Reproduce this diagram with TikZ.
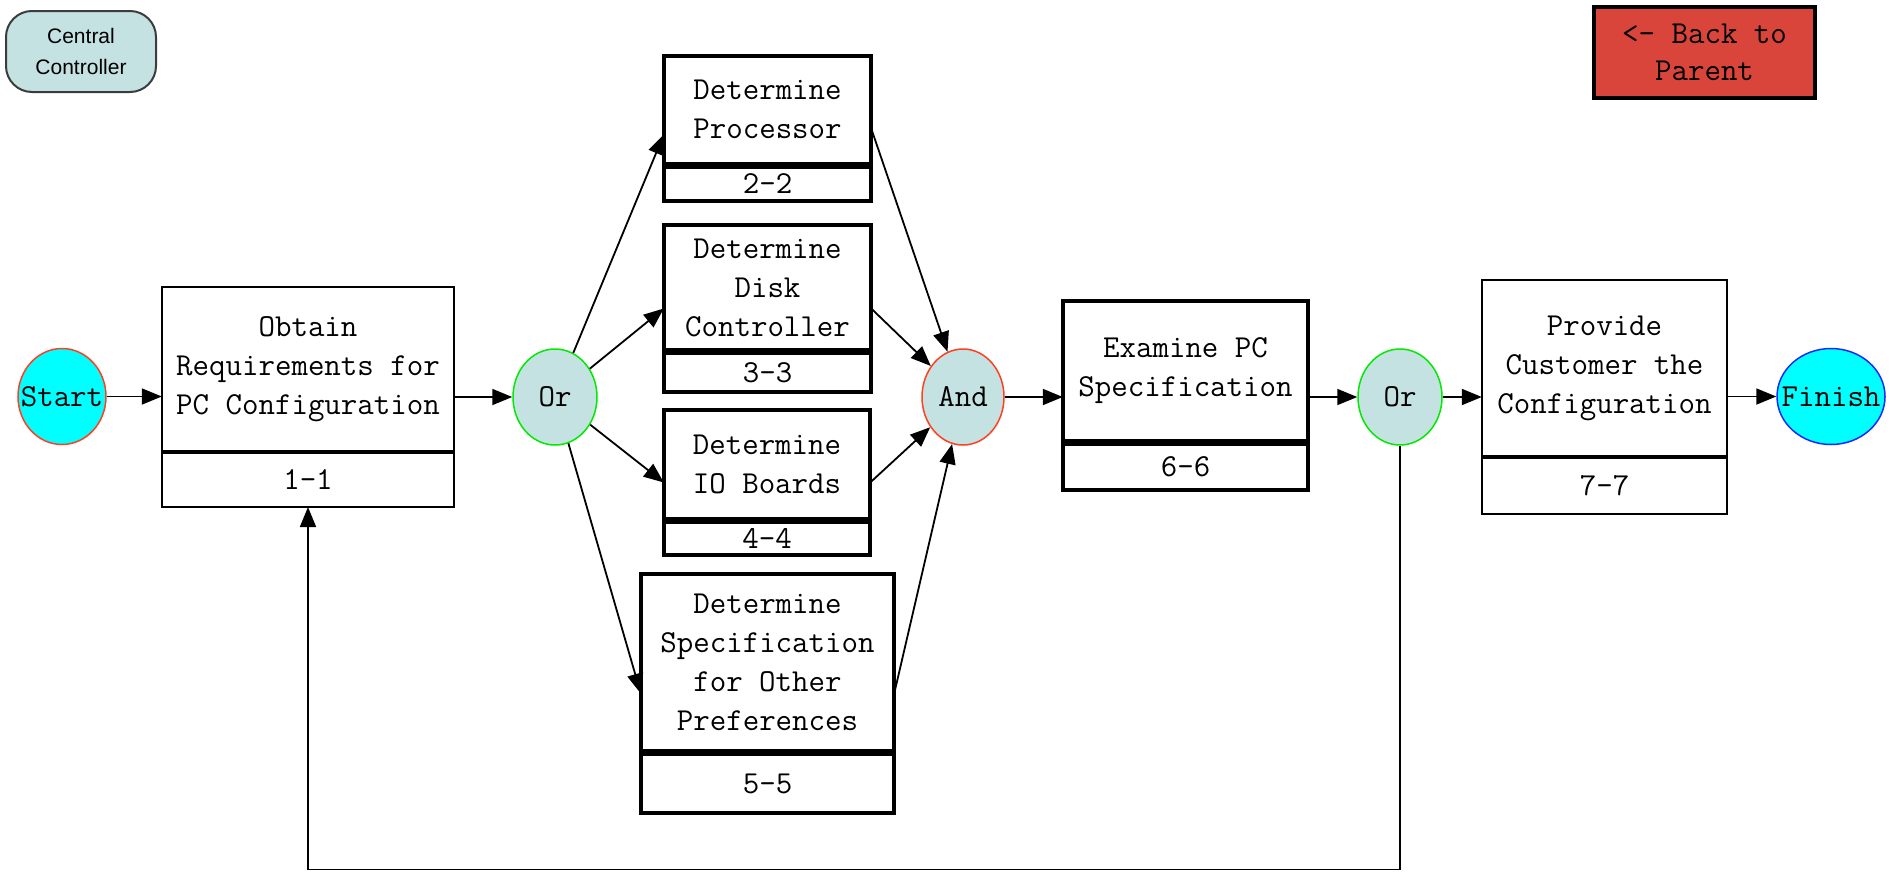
\documentclass[tikz,border=0pt]{standalone}
\usepackage{fontspec}
\newfontfamily\ccfont{Liberation Sans}
\usetikzlibrary{arrows.meta,shapes.geometric,fit}

\definecolor{gatefill}{RGB}{196,226,226}
\definecolor{termfill}{RGB}{0,255,255}
\definecolor{orline}{RGB}{0,235,0}
\definecolor{andline}{RGB}{255,64,32}
\definecolor{finline}{RGB}{30,40,255}
\definecolor{backfill}{RGB}{218,69,59}
\definecolor{ccline}{RGB}{60,60,60}

% typewriter face used for all labels in the flow
\newcommand\tkfont{\fontsize{32}{39}\selectfont\ttfamily}
% label that may run past the outline of its ellipse
\newcommand\overlabel[1]{\makebox[0pt]{#1}}

\begin{document}
\begin{tikzpicture}[x=1pt,y=-1pt,
  taskthick/.style={draw, line width=4pt, fill=white, inner sep=0pt, outer sep=0pt,
                    align=center, font=\tkfont},
  taskthin/.style={taskthick, line width=2pt},
  gate/.style={ellipse, draw, fill=gatefill, line width=1.5pt, inner sep=0pt,
               minimum height=96pt, font=\tkfont},
  terminal/.style={gate, fill=termfill},
  flow/.style={line width=1.8pt, -{Triangle[length=20pt,width=16pt]}}
]
\useasboundingbox (0,0) rectangle (1897,873);

% header buttons
\node[draw=ccline, line width=2pt, fill=gatefill, rounded corners=26pt,
      minimum width=150pt, minimum height=81pt, inner sep=0pt, align=center,
      font=\fontsize{21}{31}\selectfont\ccfont] (cc) at (81,51.5) {Central\\Controller};
\node[draw, line width=4pt, fill=backfill, minimum width=221pt, minimum height=91pt,
      inner sep=0pt, align=center, font=\fontsize{32}{37}\selectfont\ttfamily]
      (back) at (1704.5,52.5) {<- Back to\\Parent};

% terminals and gates
\node[terminal, draw=andline, minimum width=88pt] (start) at (62,396.5) {\overlabel{Start}};
\node[gate, draw=orline, minimum width=84pt] (or1) at (555,397) {Or};
\node[gate, draw=andline, minimum width=82pt] (and) at (963,397) {And};
\node[gate, draw=orline, minimum width=84pt] (or2) at (1400,397) {Or};
\node[terminal, draw=finline, minimum width=108pt] (finish) at (1831,396.5) {\overlabel{Finish}};

% activity boxes: description part above, number part below
\node[taskthin, minimum width=292pt, minimum height=164pt] (obtainT) at (308,369)
      {Obtain\\Requirements for\\PC Configuration};
\node[taskthin, minimum width=292pt, minimum height=54pt] (obtainN) at (308,480) {1-1};
\node[fit=(obtainT)(obtainN), inner sep=0pt] (obtain) {};

\node[taskthick, minimum width=207pt, minimum height=107.5pt] (procT) at (767.5,109.75)
      {Determine\\Processor};
\node[taskthick, minimum width=207pt, minimum height=34.5pt] (procN) at (767.5,183.75) {2-2};
\node[fit=(procT)(procN), inner sep=0pt] (proc) {};

\node[taskthick, minimum width=207pt, minimum height=125pt] (diskT) at (767.5,287.5)
      {Determine\\Disk\\Controller};
\node[taskthick, minimum width=207pt, minimum height=39pt] (diskN) at (767.5,372.5) {3-3};
\node[fit=(diskT)(diskN), inner sep=0pt] (disk) {};

\node[taskthick, minimum width=206pt, minimum height=108.5pt] (ioT) at (767,464.25)
      {Determine\\IO Boards};
\node[taskthick, minimum width=206pt, minimum height=33.5pt] (ioN) at (767,538.25) {4-4};
\node[fit=(ioT)(ioN), inner sep=0pt] (io) {};

\node[taskthick, minimum width=253pt, minimum height=177pt] (specT) at (767.5,662.5)
      {Determine\\Specification\\for Other\\Preferences};
\node[taskthick, minimum width=253pt, minimum height=59pt] (specN) at (767.5,783.5) {5-5};
\node[fit=(specT)(specN), inner sep=0pt] (spec) {};

\node[taskthick, minimum width=245pt, minimum height=140pt] (examT) at (1185.5,371)
      {Examine PC\\Specification};
\node[taskthick, minimum width=245pt, minimum height=46pt] (examN) at (1185.5,467) {6-6};
\node[fit=(examT)(examN), inner sep=0pt] (exam) {};

\node[taskthin, minimum width=245pt, minimum height=176pt] (provT) at (1604.5,368)
      {Provide\\Customer the\\Configuration};
\node[taskthin, minimum width=245pt, minimum height=56pt] (provN) at (1604.5,486) {7-7};
\node[fit=(provT)(provN), inner sep=0pt] (prov) {};

% flow connectors
\draw[flow] (start) -- (obtain.west |- start.east);
\draw[flow] (obtain.east |- or1.west) -- (or1);
\draw[flow] (or1) -- ([yshift=-6pt]proc.west);
\draw[flow] (or1) -- (disk.west);
\draw[flow] (or1) -- (io.west);
\draw[flow] (or1) -- (spec.west);
\draw[flow] (proc.east) -- (and);
\draw[flow] (disk.east) -- (and);
\draw[flow] (io.east) -- (and);
\draw[flow] (spec.east) -- (and);
\draw[flow] (and) -- (exam.west |- and.east);
\draw[flow] (exam.east |- or2.west) -- (or2);
\draw[flow] (or2) -- (prov.west |- or2.east);
\draw[flow] (prov.east |- finish.west) -- (finish);

% loop back to the first activity
\coordinate (loopy) at (0,869.5);
\draw[flow] (or2.south) -- (or2.south |- loopy) -| (obtainN.south);
\end{tikzpicture}
\end{document}
